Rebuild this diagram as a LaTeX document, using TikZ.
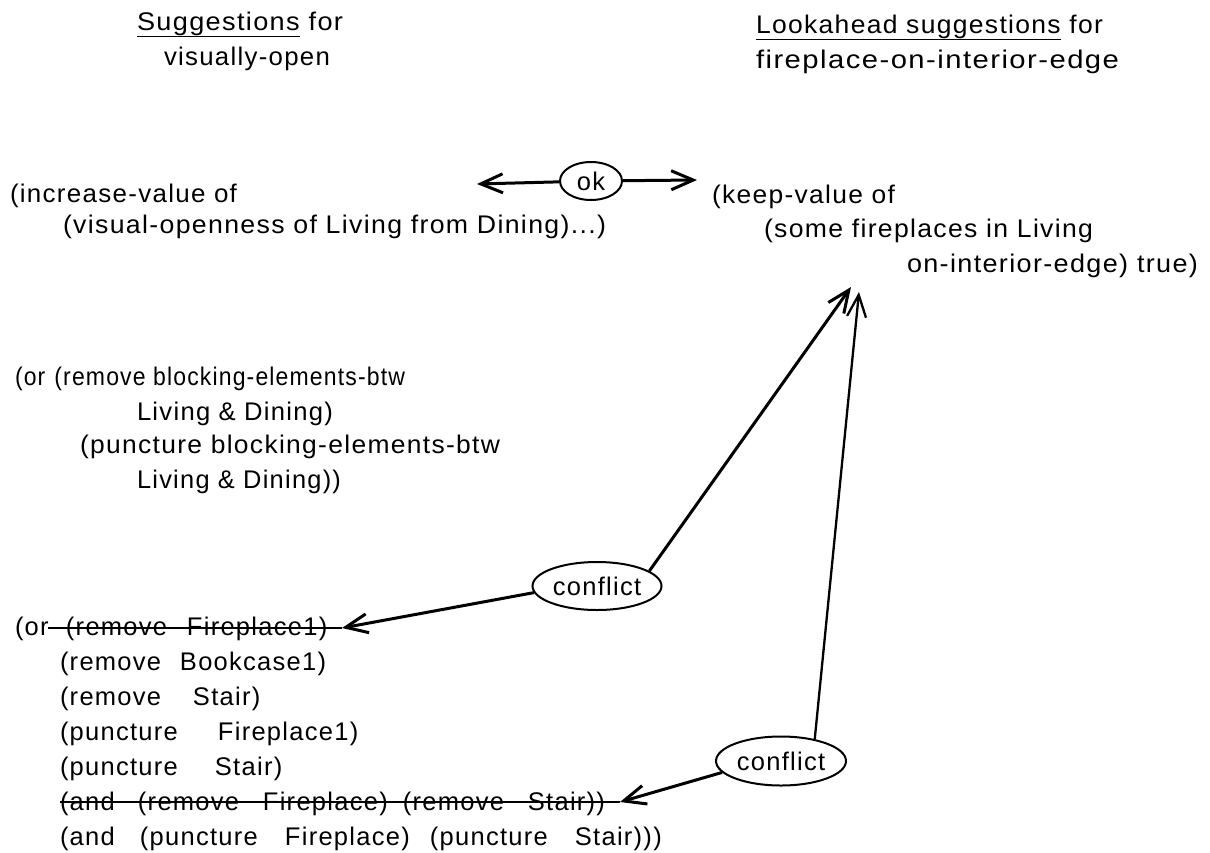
\documentclass[tikz,border=0pt]{standalone}
\usepackage{graphicx}
\usepackage{fontspec}
\setmainfont{Liberation Sans}
\newfontfamily\dfont[LetterSpace=5]{Liberation Sans}
\usetikzlibrary{shapes.geometric,arrows.meta}
\newcommand{\fitw}[2]{\resizebox{#1}{\height}{#2}}
\begin{document}
\begin{tikzpicture}[x=1pt,y=-1pt,
  txt/.style={anchor=base west,inner sep=0pt,outer sep=0pt,font=\fontsize{25.5}{28}\dfont},
  ell/.style={draw,ellipse,line width=2pt,inner sep=0pt,font=\fontsize{25.5}{28}\dfont},
  arr/.style={line width=3pt,-{Straight Barb[length=22pt,width=19pt]}},
  strikeline/.style={line width=2.8pt}]
\useasboundingbox[fill=white] (0,0) rectangle (1210,852);

% titles
\node[txt] (lt1) at (137,30) {\fitw{206pt}{\underline{Suggestions} for}};
\node[txt] (lt2) at (164,65) {\fitw{166pt}{visually-open}};
\node[txt] (rt1) at (756,33) {\fitw{347pt}{\underline{Lookahead suggestions} for}};
\node[txt] (rt2) at (756,68) {\fitw{363pt}{fireplace-on-interior-edge}};

% increase-value
\node[txt] (inc1) at (10,202) {\fitw{227pt}{(increase-value of}};
\node[txt] (inc2) at (63,233) {\fitw{543pt}{(visual-openness of Living from Dining)...)}};

% keep-value
\node[txt] (kp1) at (712,203) {\fitw{183pt}{(keep-value of}};
\node[txt] (kp2) at (764,237) {\fitw{329pt}{(some fireplaces in Living}};
\node[txt] (kp3) at (907,272) {\fitw{291pt}{on-interior-edge) true)}};

% or block
\node[txt] (or1) at (15,385) {\fitw{390pt}{(or\hspace{10pt}(remove blocking-elements-btw}};
\node[txt] (or2) at (137,420) {\fitw{196pt}{Living \& Dining)}};
\node[txt] (or3) at (80,453) {\fitw{420pt}{(puncture blocking-elements-btw}};
\node[txt] (or4) at (137,488) {\fitw{204pt}{Living \& Dining))}};

% bottom list
\node[txt] (b1) at (15,635) {\makebox[51pt][l]{(or}\makebox[121pt][l]{(remove}Fireplace1)};
\node[txt] (b2) at (60,670) {\makebox[120pt][l]{(remove}Bookcase1)};
\node[txt] (b3) at (60,705) {\makebox[133pt][l]{(remove}Stair)};
\node[txt] (b4) at (60,740) {\makebox[158pt][l]{(puncture}Fireplace1)};
\node[txt] (b5) at (60,775) {\makebox[155pt][l]{(puncture}Stair)};
\node[txt] (b6) at (60,810) {\makebox[78pt][l]{(and}\makebox[125pt][l]{(remove}\makebox[140pt][l]{Fireplace)}\makebox[125pt][l]{(remove}Stair))};
\node[txt] (b7) at (60,845) {\makebox[80pt][l]{(and}\makebox[145pt][l]{(puncture}\makebox[145pt][l]{Fireplace)}\makebox[145pt][l]{(puncture}Stair)))};

% ellipses
\node[ell,minimum width=62pt,minimum height=38pt] (ok) at (591,181) {ok};
\node[ell,minimum width=129pt,minimum height=48pt] (c1) at (597,586) {conflict};
\node[ell,minimum width=130pt,minimum height=49pt] (c2) at (781,761) {conflict};

% free ends
\coordinate (okL) at (477,184);
\coordinate (okR) at (697,180);
\coordinate (tipA) at (851,287);
\coordinate (tipB) at (859,292);
\coordinate (tipC) at (342,628);
\coordinate (tipD) at (620,802);
\coordinate (s1) at (48,628);
\coordinate (s2) at (60,802);

% connectors
\draw[arr] (ok) -- (okL);
\draw[arr] (ok) -- (okR);
\draw[arr] (c1.16) -- (tipA);
\draw[arr] (c1.186) -- (tipC);
\draw[arr,line width=2.3pt] (c2.33) -- (tipB);
\draw[arr] (c2.191) -- (tipD);
\draw[strikeline] (s1) -- (tipC);
\draw[strikeline] (s2) -- (tipD);
\end{tikzpicture}
\end{document}
